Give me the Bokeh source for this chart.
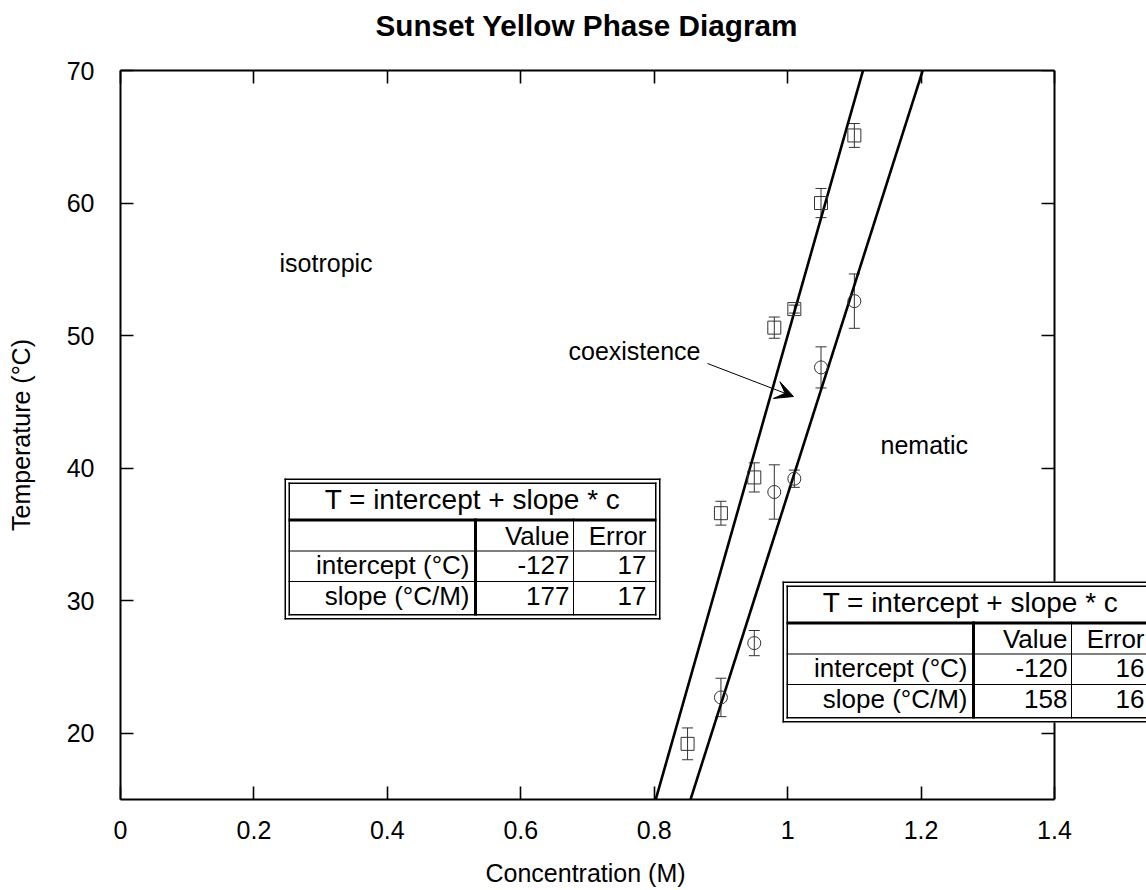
import numpy as np
from bokeh.plotting import figure
from bokeh.models import (ColumnDataSource, Whisker, TeeHead, LinearAxis, FixedTicker,
                          Label, BoxAnnotation, Arrow, VeeHead, Range1d, Title)
from bokeh.embed import file_html
from bokeh.resources import INLINE

# ---------------- data ----------------
x_ticks = [0, 0.2, 0.4, 0.6, 0.8, 1, 1.2, 1.4]
x_tick_labels = ["0", "0.2", "0.4", "0.6", "0.8", "1", "1.2", "1.4"]
y_ticks = [20, 30, 40, 50, 60, 70]
y_tick_labels = ["20", "30", "40", "50", "60", "70"]

# squares: isotropic / coexistence boundary
sq_c = [0.85, 0.90, 0.95, 0.98, 1.01, 1.05, 1.10]
sq_T = [19.2, 36.6, 39.3, 50.6, 52.0, 60.0, 65.1]
sq_err = [1.2, 0.9, 1.1, 0.8, 0.3, 1.1, 0.9]

# circles: coexistence / nematic boundary
ci_c = [0.90, 0.95, 0.98, 1.01, 1.05, 1.10]
ci_T = [22.7, 26.8, 38.2, 39.2, 47.6, 52.6]
ci_err = [1.45, 0.95, 2.05, 0.65, 1.55, 2.05]

# linear fits T = intercept + slope * c
fit_rows = ["intercept (°C)", "slope (°C/M)"]
fit1_values = [-127, 177]
fit1_errors = [17, 17]
fit2_values = [-120, 158]
fit2_errors = [16, 16]

FONT = "Liberation Sans"
FS = "25px"
TFS = "26px"

# -------------- figure geometry (pixels) ---------------
W, H = 1146, 890
BL, BT, BB = 120, 70, 91
FL, FR, FT, FB = 120, 1054, 70, 799        # axis box
X0, X1, Y0, Y1 = 0.0, 1.4, 15.0, 70.0
x_end = X1 * (W - BL) / (FR - FL)            # frame runs on to the canvas edge


def dx(px):
    return X0 + (px - FL) / (FR - FL) * (X1 - X0)


def dy(py):
    return Y1 - (py - FT) / (FB - FT) * (Y1 - Y0)


p = figure(width=W, height=H, x_range=Range1d(X0, x_end), y_range=Range1d(Y0, Y1),
           output_backend="svg", toolbar_location=None,
           min_border_left=BL, min_border_right=0, min_border_top=BT, min_border_bottom=BB,
           y_axis_label="Temperature (°C)")
p.grid.visible = False
p.outline_line_color = None
p.background_fill_color = "white"
p.border_fill_color = "white"
p.title.visible = False


def style_axis(ax, ticks, labels, show_labels):
    ax.ticker = FixedTicker(ticks=ticks)
    ax.major_label_overrides = {t: l for t, l in zip(ticks, labels)}
    ax.axis_line_width = 2
    ax.axis_line_color = "black"
    ax.major_tick_in = 13
    ax.major_tick_out = 0
    ax.major_tick_line_width = 1.6
    ax.major_tick_line_color = "black"
    ax.minor_tick_in = 0
    ax.minor_tick_out = 0
    ax.minor_tick_line_color = None
    ax.major_label_text_font = FONT
    ax.major_label_text_color = "black"
    ax.axis_label_text_font = FONT
    ax.axis_label_text_font_style = "normal"
    ax.axis_label_text_font_size = FS
    ax.axis_label_text_color = "black"
    if show_labels:
        ax.major_label_text_font_size = FS
    else:
        ax.major_label_text_font_size = "0px"
        ax.major_label_text_color = None
        ax.major_label_standoff = 0


def spacer_axis(size):
    # blank band of the given height: one white tick in the empty margin right of the box
    return LinearAxis(ticker=FixedTicker(ticks=[1.5]), axis_line_color=None,
                      major_tick_line_color="white", minor_tick_line_color=None,
                      major_tick_in=0, major_tick_out=size, minor_tick_in=0, minor_tick_out=0,
                      major_label_text_color=None, major_label_text_font_size="0px",
                      major_label_standoff=0)


xa = p.xaxis[0]
style_axis(xa, x_ticks, x_tick_labels, True)
xa.bounds = (X0, X1)
xa.major_label_standoff = 21
ya = p.yaxis[0]
style_axis(ya, y_ticks, y_tick_labels, True)
ya.major_label_standoff = 26
ya.axis_label_standoff = 29

top_ax = LinearAxis()
style_axis(top_ax, x_ticks, x_tick_labels, False)
top_ax.bounds = (X0, X1)
p.add_layout(top_ax, "above")
p.add_layout(spacer_axis(29), "above")
p.add_layout(Title(text="Sunset Yellow Phase Diagram", align="left", offset=255,
                   vertical_align="bottom", standoff=0, text_font=FONT,
                   text_font_size="29.7px", text_font_style="bold", text_color="black"), "above")

right_ax = LinearAxis(fixed_location=X1)
style_axis(right_ax, y_ticks, y_tick_labels, False)
p.add_layout(right_ax, "right")

# x-axis title, centred under the axis box
p.add_layout(spacer_axis(17), "below")
p.add_layout(Title(text="Concentration (M)", align="left", offset=365,
                   vertical_align="top", standoff=0, text_font=FONT,
                   text_font_size=FS, text_font_style="normal", text_color="black"), "below")

# -------------- fit lines ---------------
T_ends = np.array([Y0 - 5, Y1 + 5])
for b, m in [(fit1_values[0], fit1_values[1]), (fit2_values[0], fit2_values[1])]:
    p.line((T_ends - b) / m, T_ends, line_color="black", line_width=2.6)

# -------------- data points with error bars ---------------
POINT_COLOR = "#333333"
for c, T, e, mk in [(sq_c, sq_T, sq_err, "square"), (ci_c, ci_T, ci_err, "circle")]:
    src = ColumnDataSource(dict(c=c, T=T,
                                upper=[t + s for t, s in zip(T, e)],
                                lower=[t - s for t, s in zip(T, e)]))
    p.add_layout(Whisker(source=src, base="c", upper="upper", lower="lower", dimension="height",
                         line_color=POINT_COLOR, line_width=1,
                         upper_head=TeeHead(size=11, line_color=POINT_COLOR, line_width=1),
                         lower_head=TeeHead(size=11, line_color=POINT_COLOR, line_width=1)))
    p.scatter("c", "T", source=src, marker=mk, size=13, fill_color=None,
              line_color=POINT_COLOR, line_width=1)

# -------------- region labels ---------------
for txt, px, py in [("isotropic", 279, 262), ("coexistence", 568, 350), ("nematic", 880, 444)]:
    p.add_layout(Label(x=dx(px), y=dy(py), text=txt, text_align="left",
                       text_baseline="middle", text_font=FONT, text_font_size=FS,
                       text_color="black"))

p.add_layout(Arrow(end=VeeHead(size=18, fill_color="black", line_color="black", line_width=1),
                   x_start=dx(707), y_start=dy(363), x_end=dx(793), y_end=dy(396),
                   line_color="black", line_width=1))


# -------------- fit tables ---------------
def hbar(p, x0, x1, yc, w):
    p.add_layout(BoxAnnotation(left=dx(x0), right=dx(x1), top=dy(yc - w / 2), bottom=dy(yc + w / 2),
                               fill_color="black", fill_alpha=1, line_alpha=0))


def vbar(p, xc, y0, y1, w):
    p.add_layout(BoxAnnotation(left=dx(xc - w / 2), right=dx(xc + w / 2), top=dy(y0), bottom=dy(y1),
                               fill_color="black", fill_alpha=1, line_alpha=0))


def table_label(p, txt, px, py, align, size=TFS):
    p.add_layout(Label(x=dx(px), y=dy(py), text=txt, text_align=align, text_baseline="middle",
                       text_font=FONT, text_font_size=size, text_color="black"))


def draw_table(p, L, T, values, errors):
    TW, TH = 376, 141
    p.add_layout(BoxAnnotation(left=dx(L), right=dx(L + TW), top=dy(T), bottom=dy(T + TH),
                               fill_color="white", fill_alpha=1, line_alpha=0))
    # double border
    hbar(p, L, L + TW, T + 0.75, 1.5)
    hbar(p, L, L + TW, T + TH - 0.75, 1.5)
    vbar(p, L + 0.75, T, T + TH, 1.5)
    vbar(p, L + TW - 0.75, T, T + TH, 1.5)
    hbar(p, L + 4, L + TW - 4, T + 4.75, 1.5)
    hbar(p, L + 4, L + TW - 4, T + TH - 4.75, 1.5)
    vbar(p, L + 4.75, T + 4, T + TH - 4, 1.5)
    vbar(p, L + TW - 4.75, T + 4, T + TH - 4, 1.5)
    # inner rules
    hbar(p, L + 4, L + TW - 4, T + 41.5, 3)
    hbar(p, L + 4, L + TW - 4, T + 72.5, 1)
    hbar(p, L + 4, L + TW - 4, T + 103, 1)
    vbar(p, L + 191, T + 40, T + TH - 4, 3)
    vbar(p, L + 289, T + 40, T + TH - 4, 1)
    # texts
    table_label(p, "T = intercept + slope * c", L + 188, T + 21, "center", "28px")
    table_label(p, "Value", L + 285, T + 57, "right")
    table_label(p, "Error", L + 362, T + 57, "right")
    for i, (name, v, e) in enumerate(zip(fit_rows, values, errors)):
        yc = T + 86.5 + 31 * i
        table_label(p, name, L + 185, yc, "right")
        table_label(p, str(v), L + 285, yc, "right")
        table_label(p, str(e), L + 362, yc, "right")


draw_table(p, 284, 478, fit1_values, fit1_errors)
draw_table(p, 782, 581, fit2_values, fit2_errors)

open("out.html", "w").write(file_html(p, INLINE))
